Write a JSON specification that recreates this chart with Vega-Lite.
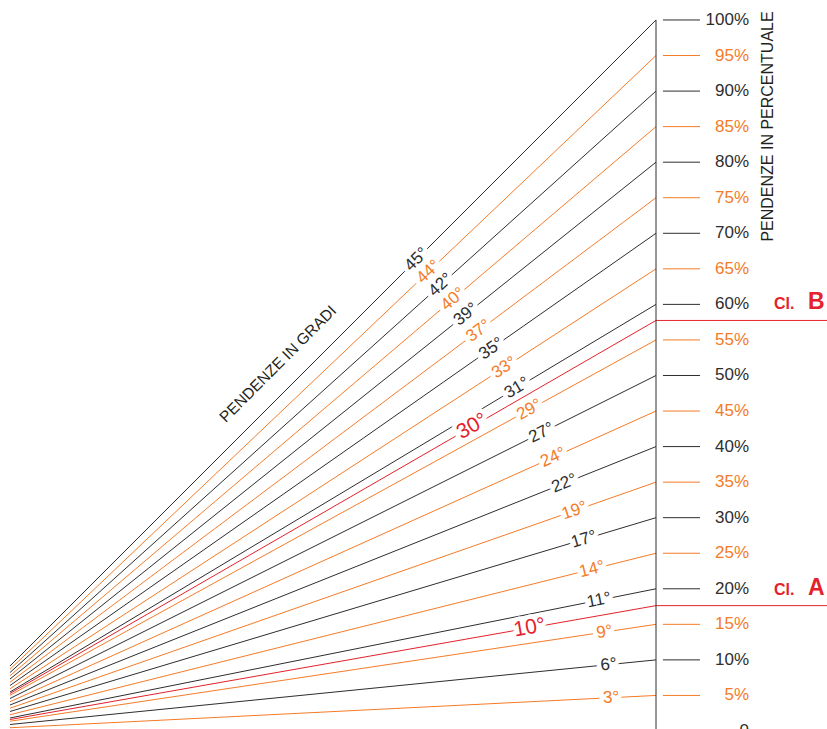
{
  "$schema": "https://vega.github.io/schema/vega-lite/v6.json",
  "autosize": "none",
  "width": 817,
  "height": 729,
  "padding": {"left": 10, "top": 0, "right": 0, "bottom": 0},
  "background": "white",
  "config": {"view": {"stroke": null}, "font": "Liberation Sans"},
  "datasets": {
    "lines": [
      {"p": 5, "lab": "3°", "c": "o", "ang": 2.862, "lx": 93.68, "ly": 4.68},
      {"p": 10, "lab": "6°", "c": "k", "ang": 5.711, "lx": 93.33, "ly": 9.33},
      {"p": 15, "lab": "9°", "c": "o", "ang": 8.531, "lx": 92.76, "ly": 13.91},
      {"p": 20, "lab": "11°", "c": "k", "ang": 11.31, "lx": 91.98, "ly": 18.4},
      {"p": 25, "lab": "14°", "c": "o", "ang": 14.036, "lx": 91.0, "ly": 22.75},
      {"p": 30, "lab": "17°", "c": "k", "ang": 16.699, "lx": 89.84, "ly": 26.95},
      {"p": 35, "lab": "19°", "c": "o", "ang": 19.29, "lx": 88.53, "ly": 30.99},
      {"p": 40, "lab": "22°", "c": "k", "ang": 21.801, "lx": 87.09, "ly": 34.84},
      {"p": 45, "lab": "24°", "c": "o", "ang": 24.228, "lx": 85.54, "ly": 38.49},
      {"p": 50, "lab": "27°", "c": "k", "ang": 26.565, "lx": 83.9, "ly": 41.95},
      {"p": 55, "lab": "29°", "c": "o", "ang": 28.811, "lx": 82.19, "ly": 45.2},
      {"p": 60, "lab": "31°", "c": "k", "ang": 30.964, "lx": 80.43, "ly": 48.26},
      {"p": 65, "lab": "33°", "c": "o", "ang": 33.024, "lx": 78.65, "ly": 51.12},
      {"p": 70, "lab": "35°", "c": "k", "ang": 34.992, "lx": 76.84, "ly": 53.79},
      {"p": 75, "lab": "37°", "c": "o", "ang": 36.87, "lx": 75.04, "ly": 56.28},
      {"p": 80, "lab": "39°", "c": "k", "ang": 38.66, "lx": 73.25, "ly": 58.6},
      {"p": 85, "lab": "40°", "c": "o", "ang": 40.365, "lx": 71.47, "ly": 60.75},
      {"p": 90, "lab": "42°", "c": "k", "ang": 41.987, "lx": 69.72, "ly": 62.75},
      {"p": 95, "lab": "44°", "c": "o", "ang": 43.531, "lx": 68.01, "ly": 64.6},
      {"p": 100, "lab": "45°", "c": "k", "ang": 45, "lx": 66.33, "ly": 66.33},
      {"p": 57.74, "lab": "30°", "c": "r", "ang": 30, "lx": 74.17, "ly": 42.83},
      {"p": 17.63, "lab": "10°", "c": "r", "ang": 10, "lx": 82.23, "ly": 14.5}
    ],
    "ticks": [
      {"p": 0, "lab": "0", "c": "k"},
      {"p": 5, "lab": "5%", "c": "o"},
      {"p": 10, "lab": "10%", "c": "k"},
      {"p": 15, "lab": "15%", "c": "o"},
      {"p": 20, "lab": "20%", "c": "k"},
      {"p": 25, "lab": "25%", "c": "o"},
      {"p": 30, "lab": "30%", "c": "k"},
      {"p": 35, "lab": "35%", "c": "o"},
      {"p": 40, "lab": "40%", "c": "k"},
      {"p": 45, "lab": "45%", "c": "o"},
      {"p": 50, "lab": "50%", "c": "k"},
      {"p": 55, "lab": "55%", "c": "o"},
      {"p": 60, "lab": "60%", "c": "k"},
      {"p": 65, "lab": "65%", "c": "o"},
      {"p": 70, "lab": "70%", "c": "k"},
      {"p": 75, "lab": "75%", "c": "o"},
      {"p": 80, "lab": "80%", "c": "k"},
      {"p": 85, "lab": "85%", "c": "o"},
      {"p": 90, "lab": "90%", "c": "k"},
      {"p": 95, "lab": "95%", "c": "o"},
      {"p": 100, "lab": "100%", "c": "k"}
    ],
    "cl": [
      {"p": 57.74, "k": "B"},
      {"p": 17.63, "k": "A"}
    ]
  },
  "layer": [
    {
      "data": {"name": "lines"},
      "mark": {"type": "rule", "clip": true, "strokeWidth": 1},
      "encoding": {
        "x": {"datum": 100, "type": "quantitative", "scale": {"domain": [9.14, 124.05], "nice": false, "zero": false}, "axis": null},
        "y": {"field": "p", "type": "quantitative", "scale": {"domain": [0.28, 102.81], "nice": false, "zero": false}, "axis": null},
        "x2": {"datum": 0},
        "y2": {"datum": 0},
        "color": {"field": "c", "type": "nominal", "scale": {"domain": ["k", "o", "r"], "range": ["#2e2e2e", "#f47b27", "#e4222b"]}, "legend": null}
      }
    },
    {
      "data": {"name": "lines"},
      "transform": [{"filter": "datum.c == 'r'"}],
      "mark": {"type": "rule", "clip": true, "strokeWidth": 1, "color": "#e4222b"},
      "encoding": {
        "x": {"datum": 100, "type": "quantitative"},
        "x2": {"datum": 124.05},
        "y": {"field": "p", "type": "quantitative"}
      }
    },
    {
      "data": {"values": [{"axis": "v"}]},
      "mark": {"type": "rule", "strokeWidth": 1, "color": "#2e2e2e"},
      "encoding": {
        "x": {"datum": 100, "type": "quantitative"},
        "y": {"datum": 100, "type": "quantitative"},
        "y2": {"datum": -1}
      }
    },
    {
      "data": {"name": "ticks"},
      "transform": [{"filter": "datum.p > 0"}],
      "mark": {"type": "rule", "strokeWidth": 1},
      "encoding": {
        "x": {"datum": 100.98, "type": "quantitative"},
        "x2": {"datum": 106.19},
        "y": {"field": "p", "type": "quantitative"},
        "color": {"field": "c", "type": "nominal", "legend": null}
      }
    },
    {
      "data": {"name": "lines"},
      "transform": [{"filter": "datum.c != 'r'"}],
      "mark": {"type": "text", "fontSize": 17, "fill": "white", "stroke": "white", "strokeWidth": 9, "strokeJoin": "round", "align": "center", "baseline": "middle"},
      "encoding": {
        "x": {"field": "lx", "type": "quantitative"},
        "y": {"field": "ly", "type": "quantitative"},
        "text": {"field": "lab"},
        "angle": {"field": "ang", "type": "quantitative", "scale": {"domain": [0, 90], "range": [360, 270]}}
      }
    },
    {
      "data": {"name": "lines"},
      "transform": [{"filter": "datum.c == 'r'"}],
      "mark": {"type": "text", "fontSize": 21, "fill": "white", "stroke": "white", "strokeWidth": 9, "strokeJoin": "round", "align": "center", "baseline": "middle"},
      "encoding": {
        "x": {"field": "lx", "type": "quantitative"},
        "y": {"field": "ly", "type": "quantitative"},
        "text": {"field": "lab"},
        "angle": {"field": "ang", "type": "quantitative"}
      }
    },
    {
      "data": {"name": "lines"},
      "transform": [{"filter": "datum.c != 'r'"}],
      "mark": {"type": "text", "fontSize": 17, "align": "center", "baseline": "middle"},
      "encoding": {
        "x": {"field": "lx", "type": "quantitative"},
        "y": {"field": "ly", "type": "quantitative"},
        "text": {"field": "lab"},
        "angle": {"field": "ang", "type": "quantitative"},
        "color": {"field": "c", "type": "nominal", "legend": null}
      }
    },
    {
      "data": {"name": "lines"},
      "transform": [{"filter": "datum.c == 'r'"}],
      "mark": {"type": "text", "fontSize": 21, "align": "center", "baseline": "middle"},
      "encoding": {
        "x": {"field": "lx", "type": "quantitative"},
        "y": {"field": "ly", "type": "quantitative"},
        "text": {"field": "lab"},
        "angle": {"field": "ang", "type": "quantitative"},
        "color": {"field": "c", "type": "nominal", "legend": null}
      }
    },
    {
      "data": {"name": "ticks"},
      "mark": {"type": "text", "fontSize": 17, "align": "right", "baseline": "middle"},
      "encoding": {
        "x": {"datum": 113.08, "type": "quantitative"},
        "y": {"field": "p", "type": "quantitative"},
        "text": {"field": "lab"},
        "color": {"field": "c", "type": "nominal", "legend": null}
      }
    },
    {
      "data": {"values": [{"t": "PENDENZE IN PERCENTUALE"}]},
      "mark": {"type": "text", "fontSize": 16, "angle": 270, "align": "center", "baseline": "middle", "color": "#231f20"},
      "encoding": {
        "x": {"datum": 115.75, "type": "quantitative"},
        "y": {"datum": 85.02, "type": "quantitative"},
        "text": {"field": "t"}
      }
    },
    {
      "data": {"values": [{"t": "PENDENZE IN GRADI"}]},
      "mark": {"type": "text", "fontSize": 15.5, "angle": 315, "align": "center", "baseline": "middle", "color": "#231f20"},
      "encoding": {
        "x": {"datum": 46.84, "type": "quantitative"},
        "y": {"datum": 51.62, "type": "quantitative"},
        "text": {"field": "t"}
      }
    },
    {
      "data": {"name": "cl"},
      "mark": {"type": "text", "fontSize": 16, "fontWeight": "bold", "align": "left", "baseline": "alphabetic", "dy": -11, "color": "#e4222b", "text": "Cl."},
      "encoding": {
        "x": {"datum": 116.6, "type": "quantitative"},
        "y": {"field": "p", "type": "quantitative"}
      }
    },
    {
      "data": {"name": "cl"},
      "mark": {"type": "text", "fontSize": 23, "fontWeight": "bold", "align": "left", "baseline": "alphabetic", "dy": -11, "color": "#e4222b"},
      "encoding": {
        "x": {"datum": 121.38, "type": "quantitative"},
        "y": {"field": "p", "type": "quantitative"},
        "text": {"field": "k"}
      }
    }
  ]
}
